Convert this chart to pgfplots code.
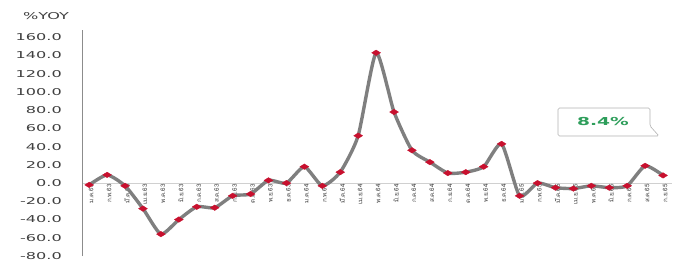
\documentclass[border=0pt]{standalone}
\usepackage{pgfplots}
\pgfplotsset{compat=1.18}
\usepackage{fontspec}
\setmainfont{DejaVu Sans}
\newfontfamily\wide[FakeStretch=1.7]{DejaVu Sans}
\newfontfamily\thaifont[Script=Thai]{Loma}
\definecolor{linegray}{HTML}{7F7F7F}
\definecolor{mkred}{HTML}{C8102E}
\definecolor{txtgray}{HTML}{404040}
\definecolor{zerogray}{HTML}{D0D0D0}
\definecolor{axgray}{HTML}{8C8C8C}
\definecolor{callgreen}{HTML}{2E9E5B}
\begin{document}
\begin{tikzpicture}
\path[use as bounding box] (-82bp,-10bp) rectangle (600bp,256bp);
\begin{axis}[
  at={(0,0)}, anchor=south west, scale only axis,
  width=590bp, height=226bp,
  xmin=-0.4, xmax=32.5, ymin=-80, ymax=168,
  axis x line=middle, axis y line=left,
  x axis line style={-, color=zerogray, line width=1bp},
  y axis line style={-, color=axgray, line width=0.8bp},
  hide obscured x ticks=false, hide obscured y ticks=false,
  major tick length=0,
  xtick={0,...,32},
  xticklabels={ม.ค.63,ก.พ.63,มี.ค.63,เม.ย.63,พ.ค.63,มิ.ย.63,ก.ค.63,ส.ค.63,ก.ย.63,ต.ค.63,พ.ย.63,ธ.ค.63,ม.ค.64,ก.พ.64,มี.ค.64,เม.ย.64,พ.ค.64,มิ.ย.64,ก.ค.64,ส.ค.64,ก.ย.64,ต.ค.64,พ.ย.64,ธ.ค.64,ม.ค.65,ก.พ.65,มี.ค.65,เม.ย.65,พ.ค.65,มิ.ย.65,ก.ค.65,ส.ค.65,ก.ย.65},
  xticklabel style={font=\thaifont\fontsize{6.3}{6.3}\selectfont, rotate=90, anchor=east, inner sep=1pt, text=txtgray, yshift=-2bp},
  ytick={-80,-60,...,160},
  yticklabel style={font=\wide\fontsize{9.5}{10}\selectfont, text=txtgray, anchor=east, inner sep=0pt, xshift=-20bp},
  /pgf/number format/assume math mode=true,
  /pgf/number format/.cd, fixed, fixed zerofill, precision=1, /pgfplots/.cd,
  clip=false,
]
\addplot[color=linegray, line width=3.4bp, smooth, tension=0.35,
  mark=diamond*, mark size=3.5bp,
  mark options={fill=mkred, draw=mkred, line width=0.3bp, xscale=1.7, yscale=0.8}]
coordinates {
(0,-2) (1,9) (2,-3) (3,-28) (4,-56) (5,-40) (6,-26) (7,-27) (8,-14) (9,-12)
(10,3) (11,0) (12,18) (13,-3) (14,12) (15,52) (16,143) (17,78) (18,36) (19,23)
(20,11) (21,12) (22,18) (23,43) (24,-14) (25,0) (26,-5) (27,-6) (28,-3) (29,-5)
(30,-3) (31,19) (32,8.4)
};
\end{axis}
\node[font=\wide\fontsize{9.5}{10}\selectfont, text=txtgray] at (-36bp,239.5bp) {\%YOY};
\draw[color=gray!60, line width=0.6bp, fill=white, rounded corners=1.5bp]
  (476bp,120bp) -- (476bp,148bp) -- (568bp,148bp) -- (568bp,130bp) -- (577bp,120bp) -- (563bp,120bp) -- cycle;
\node[font=\wide\bfseries\fontsize{11}{12}\selectfont, text=callgreen] at (521bp,134bp) {8.4\%};
\end{tikzpicture}
\end{document}
